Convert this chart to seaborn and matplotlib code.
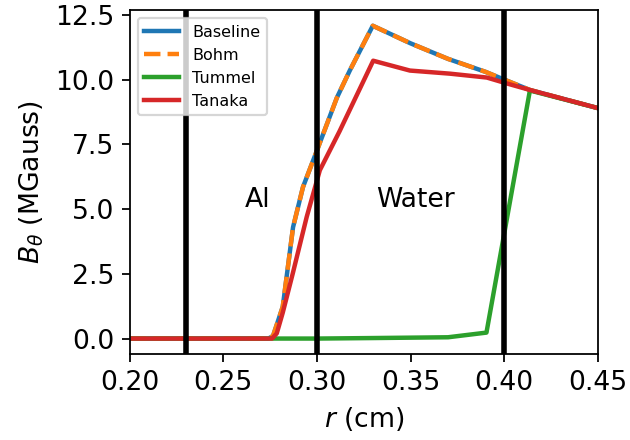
import numpy as np
import matplotlib
matplotlib.use("Agg")
import matplotlib.pyplot as plt
import seaborn as sns

plt.rcParams['font.family'] = ['DejaVu Sans']

# radius (cm) and B_theta (MGauss)
r_base = [0.20, 0.274, 0.2765, 0.2817, 0.2872, 0.2925, 0.300, 0.3106, 0.3175,
          0.3298, 0.35, 0.37, 0.39, 0.40, 0.4137, 0.45]
b_base = [0.0, 0.0, 0.1, 1.23, 4.3, 5.85, 7.27, 9.3, 10.35,
          12.08, 11.4, 10.8, 10.3, 10.0, 9.6, 8.9]

r_bohm = r_base
b_bohm = b_base

r_tummel = [0.20, 0.30, 0.33, 0.37, 0.3905, 0.4137, 0.45]
b_tummel = [0.0, 0.0, 0.02, 0.05, 0.23, 9.58, 8.9]

r_tanaka = [0.20, 0.276, 0.2785, 0.2817, 0.287, 0.2945, 0.3015, 0.312, 0.33,
            0.3496, 0.371, 0.3907, 0.40, 0.4137, 0.45]
b_tanaka = [0.0, 0.0, 0.2, 1.0, 2.5, 4.7, 6.5, 8.0, 10.73,
            10.35, 10.23, 10.08, 9.88, 9.6, 8.9]

boundaries = [0.23, 0.30, 0.40]

pal = sns.color_palette("tab10")

fig, ax = plt.subplots(figsize=(630 / 160, 440 / 160), dpi=160)

sns.lineplot(x=r_base, y=b_base, ax=ax, color=pal[0], lw=2, label="Baseline",
             estimator=None, sort=False)
sns.lineplot(x=r_bohm, y=b_bohm, ax=ax, color=pal[1], lw=2, ls="--", label="Bohm",
             estimator=None, sort=False)
sns.lineplot(x=r_tummel, y=b_tummel, ax=ax, color=pal[2], lw=2, label="Tummel",
             estimator=None, sort=False)
sns.lineplot(x=r_tanaka, y=b_tanaka, ax=ax, color=pal[3], lw=2, label="Tanaka",
             estimator=None, sort=False)

for xb in boundaries:
    ax.axvline(xb, color="k", lw=2.5)

ax.text(0.2684, 5.35, "Al", fontsize=12, ha="center", va="center")
ax.text(0.3528, 5.35, "Water", fontsize=12, ha="center", va="center")

ax.set_xlim(0.20, 0.45)
ax.set_xticks([0.20, 0.25, 0.30, 0.35, 0.40, 0.45])
ax.set_yticks([0.0, 2.5, 5.0, 7.5, 10.0, 12.5])
ax.tick_params(labelsize=12)
ax.set_xlabel(r"$r$ (cm)", fontsize=12)
ax.set_ylabel(r"$B_\theta$ (MGauss)", fontsize=12)
ax.legend(loc="upper left", fontsize=7.2, handlelength=2.2)

fig.subplots_adjust(left=0.206, right=0.949, bottom=0.195, top=0.977)
fig.savefig("out.png", dpi=160)
